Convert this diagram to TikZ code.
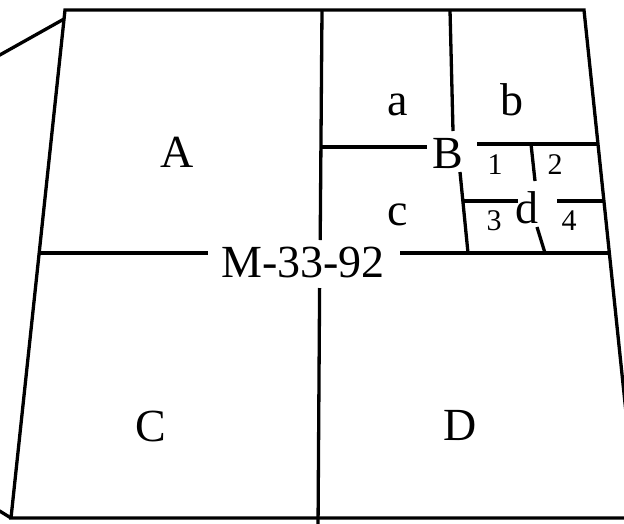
\documentclass[tikz,border=0pt]{standalone}
\usepackage{fontspec}
\setmainfont{Liberation Serif}
\begin{document}
\begin{tikzpicture}[x=1pt,y=-1pt,
  edge/.style={line width=3.3pt,black},
  big/.style={anchor=base,inner sep=0pt,font=\fontsize{46}{50}\selectfont},
  small/.style={anchor=base,inner sep=0pt,font=\fontsize{30}{33}\selectfont}]
\useasboundingbox (0,0) rectangle (624,523);
\clip (0,0) rectangle (624,523);
% sheet outline
\draw[edge] (65,10) -- (584,10) -- (637,518) -- (11,518) -- cycle;
\draw[edge] (64,19) -- (-2,56);
\draw[edge] (11,518) -- (-2,510);
% main division
\draw[edge] (322,10) -- (320.2,240);
\draw[edge] (319.6,288) -- (318,530);
\draw[edge] (39,253) -- (208,253);
\draw[edge] (400,253) -- (609,253);
% B division
\draw[edge] (450,10) -- (453,131);
\draw[edge] (460,172) -- (468,253);
\draw[edge] (322,147) -- (427,147);
\draw[edge] (477,144) -- (597,144);
% d division
\draw[edge] (531,144) -- (535,181);
\draw[edge] (537,227) -- (545,253);
\draw[edge] (464,201) -- (518,201);
\draw[edge] (557,201) -- (603,201);
% labels
\node[big] (A) at (177,167) {A};
\node[big] (C) at (151,441) {C};
\node[big] (D) at (460,440) {D};
\node[big] (M) at (303,277) {M-33-92};
\node[big] (a) at (398,115) {a};
\node[big] (b) at (512,115) {b};
\node[big] (B) at (448,168) {B};
\node[big] (c) at (398,225) {c};
\node[big] (d) at (527,223) {d};
\node[small] (n1) at (495,174) {1};
\node[small] (n2) at (555,174) {2};
\node[small] (n3) at (494,230) {3};
\node[small] (n4) at (569,230) {4};
\end{tikzpicture}
\end{document}
